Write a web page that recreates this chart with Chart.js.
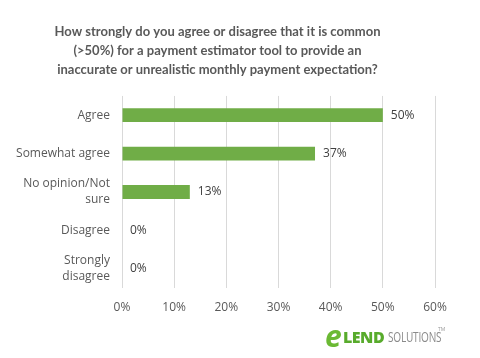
<!DOCTYPE html>
<html>
<head>
<meta charset="utf-8">
<script src="https://cdn.jsdelivr.net/npm/chart.js@4.4.1/dist/chart.umd.min.js"></script>
<style>
  html, body { margin: 0; padding: 0; background: #fff; }
  #wrap { position: relative; width: 480px; height: 358px; }
  #logo { position: absolute; left: 325px; top: 321px; height: 30px; white-space: nowrap; font-family: 'Open Sans', sans-serif; }
  #logo .e { position: absolute; left: 0; top: -6px; font-size: 30px; font-weight: 700; font-style: italic; color: #6bb934; }
  #logo .lend { position: absolute; left: 18px; top: 5px; font-size: 16px; font-weight: 800; color: #58ab2c; letter-spacing: -0.5px; }
  #logo .sol { position: absolute; left: 63px; top: 6px; font-size: 14px; color: #8a8a8a; transform: scaleX(0.72); transform-origin: left; letter-spacing: -0.3px; }
  #logo .tm { position: absolute; left: 113px; top: 5px; font-size: 5px; color: #999; }
</style>
</head>
<body>
<div id="wrap">
  <canvas id="chart" width="480" height="358"></canvas>
  <div id="logo"><span class="e">e</span><span class="lend">LEND</span><span class="sol">SOLUTIONS</span><span class="tm">TM</span></div>
</div>
<script>
// Chart data
const categories = ['Agree', 'Somewhat agree', ['No opinion/Not', 'sure'], 'Disagree', ['Strongly', 'disagree']];
const shares = [50, 37, 13, 0, 0];
const tickLabels = ['0%', '10%', '20%', '30%', '40%', '50%', '60%'];
const chartTitle = [
  'How strongly do you agree or disagree that it is common',
  '(>50%) for a payment estimator tool to provide an',
  'inaccurate or unrealistic monthly payment expectation?'
];

const fontFamily = "'Open Sans', 'Noto Sans', sans-serif";

// Value labels next to each bar
const barLabels = {
  id: 'barLabels',
  afterDatasetsDraw(chart) {
    const ctx = chart.ctx;
    const meta = chart.getDatasetMeta(0);
    ctx.save();
    ctx.font = '12px ' + fontFamily;
    ctx.fillStyle = '#404040';
    ctx.textAlign = 'left';
    ctx.textBaseline = 'middle';
    meta.data.forEach((bar, i) => {
      ctx.fillText(shares[i] + '%', bar.x + 8, bar.y);
    });
    ctx.restore();
  }
};

const ctx = document.getElementById('chart');
new Chart(ctx, {
  type: 'bar',
  data: {
    labels: categories,
    datasets: [{
      data: shares,
      backgroundColor: '#70AD47',
      barPercentage: 0.72,
      categoryPercentage: 0.5
    }]
  },
  options: {
    indexAxis: 'y',
    responsive: false,
    animation: false,
    layout: { padding: { left: 0, right: 45, top: 0, bottom: 40 } },
    plugins: {
      legend: { display: false },
      tooltip: { enabled: false },
      title: {
        display: true,
        text: chartTitle,
        color: '#595959',
        font: { family: "Lato, 'Open Sans', sans-serif", size: 13, weight: 'bold', lineHeight: 1.46 },
        padding: { top: 22, bottom: 17 }
      }
    },
    scales: {
      x: {
        min: 0,
        max: 60,
        ticks: {
          stepSize: 10,
          color: '#595959',
          padding: 12,
          font: { family: fontFamily, size: 12 },
          callback: (v, i) => tickLabels[i]
        },
        grid: { color: '#d9d9d9', drawTicks: false },
        border: { display: false },
        afterFit(scale) { scale.height = 30; }
      },
      y: {
        ticks: {
          color: '#595959',
          padding: 12,
          font: { family: fontFamily, size: 12, lineHeight: 1.35 }
        },
        grid: { display: false, drawTicks: false },
        border: { display: false },
        afterFit(scale) { scale.width = 122; }
      }
    }
  },
  plugins: [barLabels]
});
</script>
</body>
</html>
